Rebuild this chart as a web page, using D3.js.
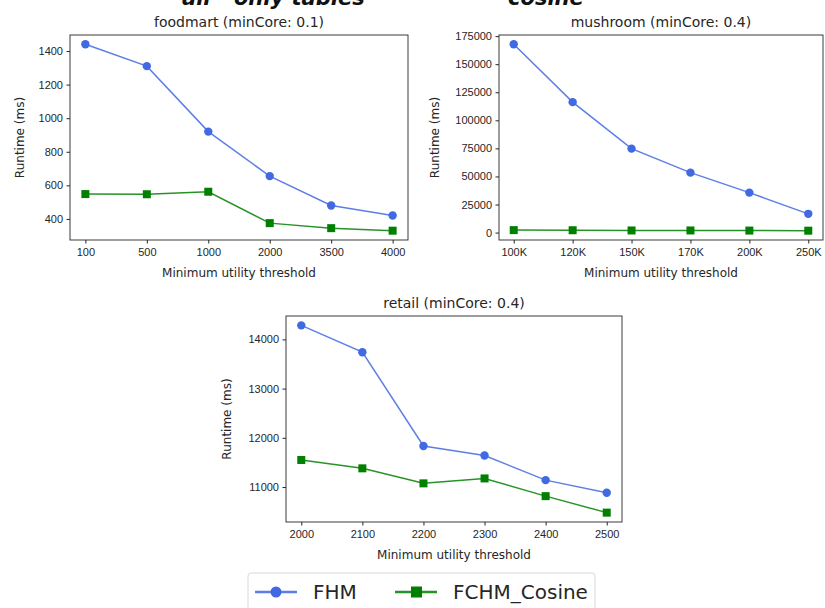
<!DOCTYPE html>
<html>
<head>
<meta charset="utf-8">
<script src="https://cdn.jsdelivr.net/npm/d3@7"></script>
<style>
  body { margin: 0; background: #fff; }
  svg { font-family: "DejaVu Sans", sans-serif; }
  .axis text { font-size: 11px; fill: #262626; }
  .axis line, .axis path { stroke: #262626; }
  .title { font-size: 14px; fill: #262626; text-anchor: middle; }
  .axis-title { font-size: 12px; fill: #262626; text-anchor: middle; }
</style>
</head>
<body>
<svg id="chart" width="825" height="608"></svg>
<script>
// foodmart
const foodmartX = ['100', '500', '1000', '2000', '3500', '4000'];
const foodmartFHM = [1440, 1310, 920, 655, 480, 420];
const foodmartFCHM = [548, 547, 562, 375, 345, 330];
const foodmartTicks = [400, 600, 800, 1000, 1200, 1400];

// mushroom
const mushroomX = ['100K', '120K', '150K', '170K', '200K', '250K'];
const mushroomFHM = [167700, 116200, 74800, 53400, 35600, 16700];
const mushroomFCHM = [2200, 2100, 1900, 1900, 1800, 1700];
const mushroomTicks = [0, 25000, 50000, 75000, 100000, 125000, 150000, 175000];

// retail
const retailX = ['2000', '2100', '2200', '2300', '2400', '2500'];
const retailFHM = [14285, 13740, 11835, 11640, 11140, 10885];
const retailFCHM = [11550, 11380, 11075, 11175, 10815, 10480];
const retailTicks = [11000, 12000, 13000, 14000];

const seriesNames = ['FHM', 'FCHM_Cosine'];
const colors = {FHM: '#4169e1', FCHM_Cosine: '#008000'};

const svg = d3.select('#chart');

// header cut off at the top of the picture
svg.append('text')
    .attr('x', 182).attr('y', 5)
    .style('font-size', '21px').style('font-style', 'italic').style('font-weight', 'bold')
    .attr('fill', '#111')
    .text('all - only tables');
svg.append('text')
    .attr('x', 508).attr('y', 5)
    .style('font-size', '21px').style('font-style', 'italic').style('font-weight', 'bold')
    .attr('fill', '#111')
    .text('cosine');

function drawPanel(cfg, cats, fhm, fchm, ticks) {
  const width = cfg.right - cfg.left;
  const height = cfg.bottom - cfg.top;
  const g = svg.append('g').attr('transform', `translate(${cfg.left},${cfg.top})`);

  const n = cats.length;
  const xScale = d3.scaleLinear()
      .domain([-0.25, n - 1 + 0.25])
      .range([0, width]);

  const all = fhm.concat(fchm);
  const lo = d3.min(all), hi = d3.max(all);
  const pad = (hi - lo) * 0.05;
  const yScale = d3.scaleLinear()
      .domain([lo - pad, hi + pad])
      .range([height, 0]);

  const xAxis = d3.axisBottom(xScale)
      .tickValues(d3.range(n))
      .tickFormat(i => cats[i])
      .tickSize(3.5).tickPadding(5)
      .tickSizeOuter(0);
  const yAxis = d3.axisLeft(yScale)
      .tickValues(ticks)
      .tickFormat(d3.format('d'))
      .tickSize(3.5).tickPadding(3.5)
      .tickSizeOuter(0);

  g.append('g').attr('class', 'axis').attr('transform', `translate(0,${height})`)
      .call(xAxis).call(a => a.select('.domain').remove());
  g.append('g').attr('class', 'axis')
      .call(yAxis).call(a => a.select('.domain').remove());

  const series = [
    {name: 'FHM', values: fhm},
    {name: 'FCHM_Cosine', values: fchm}
  ];
  const line = d3.line().x((d, i) => xScale(i)).y(d => yScale(d));

  series.forEach(s => {
    g.append('path')
        .datum(s.values)
        .attr('fill', 'none')
        .attr('stroke', colors[s.name])
        .attr('stroke-opacity', 0.85)
        .attr('stroke-width', 1.5)
        .attr('d', line);
    if (s.name === 'FHM') {
      g.selectAll(null).data(s.values).join('circle')
          .attr('cx', (d, i) => xScale(i))
          .attr('cy', d => yScale(d))
          .attr('r', 4.2)
          .attr('fill', colors[s.name]);
    } else {
      g.selectAll(null).data(s.values).join('rect')
          .attr('x', (d, i) => xScale(i) - 4)
          .attr('y', d => yScale(d) - 4)
          .attr('width', 8).attr('height', 8)
          .attr('fill', colors[s.name]);
    }
  });

  // frame
  g.append('rect')
      .attr('width', width).attr('height', height)
      .attr('fill', 'none').attr('stroke', '#262626').attr('stroke-width', 0.9);

  g.append('text').attr('class', 'title')
      .attr('x', width / 2).attr('y', -8)
      .text(cfg.title);
  g.append('text').attr('class', 'axis-title')
      .attr('x', width / 2).attr('y', height + 37)
      .text('Minimum utility threshold');
  g.append('text').attr('class', 'axis-title')
      .attr('transform', `translate(${cfg.yLabelX - cfg.left},${height / 2}) rotate(-90)`)
      .attr('dy', '0.35em')
      .text('Runtime (ms)');
}

drawPanel({left: 70, right: 408, top: 35, bottom: 240, yLabelX: 20, title: 'foodmart (minCore: 0.1)'},
    foodmartX, foodmartFHM, foodmartFCHM, foodmartTicks);
drawPanel({left: 499, right: 823, top: 35, bottom: 240, yLabelX: 435, title: 'mushroom (minCore: 0.4)'},
    mushroomX, mushroomFHM, mushroomFCHM, mushroomTicks);
drawPanel({left: 286, right: 622, top: 316, bottom: 522, yLabelX: 227, title: 'retail (minCore: 0.4)'},
    retailX, retailFHM, retailFCHM, retailTicks);

// legend
const legend = svg.append('g').attr('transform', 'translate(248,573)');
legend.append('rect')
    .attr('width', 347).attr('height', 40).attr('rx', 3)
    .attr('fill', '#fff').attr('stroke', '#d9d9d9');
const legendX = [7, 147];
seriesNames.forEach((name, i) => {
  const item = legend.append('g').attr('transform', `translate(${legendX[i]},19)`);
  item.append('line').attr('x1', 0).attr('x2', 42)
      .attr('stroke', colors[name]).attr('stroke-opacity', 0.85).attr('stroke-width', 2.5);
  if (name === 'FHM') {
    item.append('circle').attr('cx', 21).attr('r', 5.5).attr('fill', colors[name]);
  } else {
    item.append('rect').attr('x', 16).attr('y', -5.5).attr('width', 11).attr('height', 11)
        .attr('fill', colors[name]);
  }
  item.append('text').attr('x', 58).attr('dy', '0.35em')
      .style('font-size', '20px').attr('fill', '#262626')
      .text(name);
});
</script>
</body>
</html>
